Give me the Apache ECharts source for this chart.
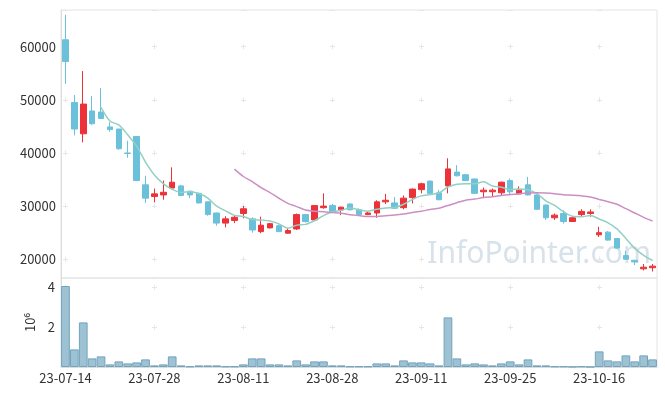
<!DOCTYPE html>
<html>
<head>
<meta charset="utf-8">
<script src="https://cdn.jsdelivr.net/npm/echarts@6/dist/echarts.min.js"></script>
<style>html,body{margin:0;padding:0;background:#fff}#c{width:665px;height:396px}</style>
</head>
<body>
<div id="c"></div>
<script>
var dates = ['2023-07-14','2023-07-17','2023-07-18','2023-07-19','2023-07-20','2023-07-21','2023-07-24','2023-07-25','2023-07-26','2023-07-27','2023-07-28','2023-07-31','2023-08-01','2023-08-02','2023-08-03','2023-08-04','2023-08-07','2023-08-08','2023-08-09','2023-08-10','2023-08-11','2023-08-14','2023-08-16','2023-08-17','2023-08-18','2023-08-21','2023-08-22','2023-08-23','2023-08-24','2023-08-25','2023-08-28','2023-08-29','2023-08-30','2023-08-31','2023-09-01','2023-09-04','2023-09-05','2023-09-06','2023-09-07','2023-09-08','2023-09-11','2023-09-12','2023-09-13','2023-09-14','2023-09-15','2023-09-18','2023-09-19','2023-09-20','2023-09-21','2023-09-22','2023-09-25','2023-09-26','2023-09-27','2023-10-04','2023-10-05','2023-10-06','2023-10-10','2023-10-11','2023-10-12','2023-10-13','2023-10-16','2023-10-17','2023-10-18','2023-10-19','2023-10-20','2023-10-23','2023-10-24'];
var openP  = [61300,49500,43600,47900,47700,44900,44500,40000,43100,34000,31800,32100,33400,33800,32800,32400,30800,28700,26800,27300,28600,27600,25200,25900,26300,24900,25700,28400,27400,29700,30100,29300,30400,29300,28400,28700,30800,30600,29700,31600,33100,34700,32500,33800,36400,35900,35100,32700,32700,32500,34800,32300,34000,32100,30200,27800,28600,27100,28400,28600,24600,25100,23900,20700,19800,18200,18400];
var closeP = [57200,44500,49200,45500,46500,44400,40800,39900,34800,31500,32300,32600,34500,32000,32100,30600,28400,26800,27600,27900,29500,25500,26400,26700,25200,25400,28400,27100,30100,30000,29000,29800,29300,28400,28700,30800,31100,29600,31500,33200,34200,32400,31200,37000,35700,34800,32400,33000,33000,34500,32700,33000,32100,29400,27800,28300,27100,27800,29000,28900,25000,23600,22100,20000,19500,18500,18700];
var lowP   = [53000,43300,42000,45300,46400,44000,40600,39100,34700,30600,30700,31200,33300,31900,31500,30500,28200,26300,26000,26800,27700,25000,24900,25800,25100,24800,25500,26900,27200,29500,28900,28300,29200,28300,28300,27800,30400,29500,29400,30500,32400,32300,31100,32400,35600,34700,32300,31500,31900,32000,32000,32200,32000,29300,27400,27400,26700,27000,28000,28000,24200,23500,22000,19900,18900,17900,17700];
var highP  = [66000,50900,55400,50700,52200,45800,44500,42300,43100,35700,33300,34800,37300,34000,32900,32500,30800,28800,28100,28200,30000,27900,28000,26800,26500,25900,28600,28500,30200,32400,30400,29900,30500,29600,29000,31100,32300,31700,32000,33300,34400,34800,33000,39000,37700,36000,35200,33500,33300,34600,35200,33700,35500,32200,30300,28600,29200,28000,29400,29400,26100,25300,24000,21600,19900,19100,19100];
var volume = [4050000,880000,2230000,430000,530000,130000,280000,180000,230000,380000,80000,130000,530000,80000,30000,80000,80000,80000,30000,30000,130000,430000,430000,130000,130000,80000,330000,130000,280000,280000,80000,80000,30000,30000,30000,180000,180000,80000,330000,230000,230000,180000,80000,2480000,430000,130000,180000,130000,80000,180000,280000,130000,380000,80000,80000,30000,30000,10000,30000,5000,780000,330000,280000,580000,280000,580000,380000];
var maPeriods = [5, 20];

function movingAverage(n) {
  var out = [];
  for (var i = 0; i < closeP.length; i++) {
    if (i < n - 1) { out.push('-'); continue; }
    var s = 0;
    for (var j = i - n + 1; j <= i; j++) s += closeP[j];
    out.push(Math.round(s / n));
  }
  return out;
}
var candles = dates.map(function (d, i) { return [openP[i], closeP[i], lowP[i], highP[i]]; });

var FONT = '"Noto Sans CJK KR", "Noto Sans", sans-serif';
var chart = echarts.init(document.getElementById('c'), null, { renderer: 'canvas' });
chart.setOption({
  animation: false,
  backgroundColor: '#fff',
  textStyle: { fontFamily: FONT },
  grid: [
    { left: 61, right: 8, top: 10, height: 268, show: true, borderColor: '#e4e4e4', borderWidth: 1 },
    { left: 61, right: 8, top: 278, height: 89, show: true, borderColor: '#e4e4e4', borderWidth: 1 }
  ],
  graphic: [{
    type: 'text', right: 14, top: 239, z: 0, silent: true,
    style: { text: 'InfoPointer.com', font: '30px "Noto Sans"', fill: 'rgba(175,198,214,0.5)' }
  }],
  xAxis: [
    { type: 'category', gridIndex: 0, data: dates, boundaryGap: true,
      axisLine: { show: false }, axisTick: { show: false }, axisLabel: { show: false },
      splitLine: { show: true, interval: 9, alignWithLabel: true,
        lineStyle: { color: '#e6e6e6', width: 1, type: [5, 48.1], dashOffset: 18.9 } } },
    { type: 'category', gridIndex: 1, data: dates, boundaryGap: true,
      axisLine: { show: true, lineStyle: { color: '#dcdcdc' } }, axisTick: { show: false },
      axisLabel: { interval: 9, margin: 5, color: '#333', fontSize: 13, fontFamily: FONT,
        formatter: function (v) { return v.slice(2); } },
      splitLine: { show: true, interval: 9, alignWithLabel: true,
        lineStyle: { color: '#e6e6e6', width: 1, type: [5, 35], dashOffset: 33.2 } } }
  ],
  yAxis: [
    { type: 'value', gridIndex: 0, min: 16470, max: 66900, scale: true,
      axisLine: { show: true, lineStyle: { color: '#dcdcdc' } }, axisTick: { show: false },
      axisLabel: { margin: 5, color: '#333', fontSize: 13, fontFamily: FONT,
        formatter: function (v) { return (v % 10000 === 0) ? String(v) : ''; } },
      splitLine: { show: true, lineStyle: { color: '#e6e6e6', width: 1, type: [5, 84], dashOffset: 87 } } },
    { type: 'value', gridIndex: 1, min: 0, max: 4450000, interval: 2000000,
      name: '10\u2076', nameLocation: 'middle', nameGap: 24, nameRotate: 90,
      nameTextStyle: { color: '#333', fontSize: 13, fontFamily: FONT },
      axisLine: { show: true, lineStyle: { color: '#dcdcdc' } }, axisTick: { show: false },
      axisLabel: { margin: 6, color: '#333', fontSize: 13, fontFamily: FONT,
        formatter: function (v) { return (v > 0 && v % 2000000 === 0) ? String(v / 1000000) : ''; } },
      splitLine: { show: true, lineStyle: { color: '#e6e6e6', width: 1, type: [5, 84], dashOffset: 87 } } }
  ],
  series: [
    { name: 'price', type: 'candlestick', xAxisIndex: 0, yAxisIndex: 0, data: candles, barWidth: '68%',
      itemStyle: { color: '#ec3238', color0: '#6cc1da', borderColor: '#ec3238', borderColor0: '#6cc1da', borderWidth: 1 } },
    { name: 'MA' + maPeriods[0], type: 'line', xAxisIndex: 0, yAxisIndex: 0, data: movingAverage(maPeriods[0]),
      showSymbol: false, smooth: 0.3, lineStyle: { color: '#92d0c4', width: 1.5 }, z: 3 },
    { name: 'MA' + maPeriods[1], type: 'line', xAxisIndex: 0, yAxisIndex: 0, data: movingAverage(maPeriods[1]),
      showSymbol: false, smooth: 0.3, lineStyle: { color: '#cc8fc4', width: 1.5 }, z: 3 },
    { name: 'volume', type: 'bar', xAxisIndex: 1, yAxisIndex: 1, data: volume, barCategoryGap: '2%',
      itemStyle: { color: '#9cc2d4', borderColor: '#72a3bd', borderWidth: 1 } }
  ]
});
</script>
</body>
</html>
